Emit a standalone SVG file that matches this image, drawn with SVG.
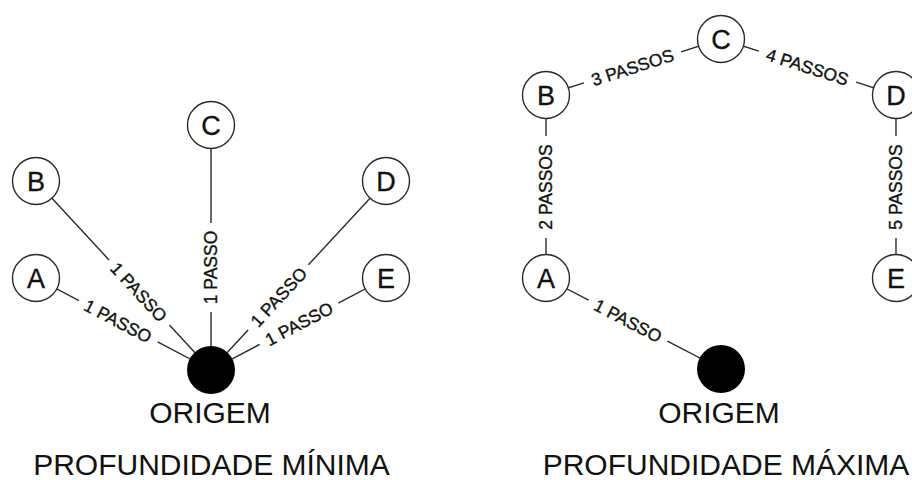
<svg xmlns="http://www.w3.org/2000/svg" width="912" height="480" viewBox="0 0 912 480">
<style>
.bg{fill:#ffffff}
.edge{stroke:#2a2a2a;stroke-width:1.4;fill:none;stroke-linecap:butt}
.node{fill:#ffffff;stroke:#2a2a2a;stroke-width:1.4}
.origin{fill:#000000;stroke:none}
.nlabel{font-family:"Liberation Sans",Arial,Helvetica,sans-serif;font-size:27px;fill:#111111;stroke:#111111;stroke-width:0.3;text-anchor:middle}
.elabel{font-family:"Liberation Sans",Arial,Helvetica,sans-serif;font-size:17.5px;fill:#111111;stroke:#111111;stroke-width:0.35;text-anchor:middle}
.title{font-family:"Liberation Sans",Arial,Helvetica,sans-serif;font-size:30px;fill:#111111;text-anchor:middle}
</style>
<rect class="bg" x="0" y="0" width="912" height="480"/>

<g id="connectors">
  <!-- left panel: minimum depth -->
  <line class="edge" x1="36" y1="278" x2="79.0" y2="300.6"/>
  <line class="edge" x1="157.6" y1="341.9" x2="211" y2="370"/>
  <text class="elabel" transform="translate(118,321) rotate(27.7)" dy="0.36em">1 PASSO</text>

  <line class="edge" x1="36" y1="181" x2="109.0" y2="259.9"/>
  <line class="edge" x1="169.4" y1="325.0" x2="211" y2="370"/>
  <text class="elabel" transform="translate(139,292) rotate(47.2)" dy="0.36em">1 PASSO</text>

  <line class="edge" x1="211" y1="125" x2="211" y2="223.1"/>
  <line class="edge" x1="211" y1="311.9" x2="211" y2="370"/>
  <text class="elabel" transform="translate(211,267.5) rotate(-90)" dy="0.36em">1 PASSO</text>

  <line class="edge" x1="386" y1="181" x2="308.5" y2="264.7"/>
  <line class="edge" x1="248.1" y1="329.9" x2="211" y2="370"/>
  <text class="elabel" transform="translate(278.5,297) rotate(-47.2)" dy="0.36em">1 PASSO</text>

  <line class="edge" x1="386" y1="278" x2="338.3" y2="303.1"/>
  <line class="edge" x1="259.7" y1="344.4" x2="211" y2="370"/>
  <text class="elabel" transform="translate(299,323.7) rotate(-27.7)" dy="0.36em">1 PASSO</text>

  <!-- right panel: maximum depth -->
  <line class="edge" x1="546" y1="278" x2="588.6" y2="300.2"/>
  <line class="edge" x1="667.4" y1="341.1" x2="721" y2="369"/>
  <text class="elabel" transform="translate(628,320.6) rotate(27.5)" dy="0.36em">1 PASSO</text>

  <line class="edge" x1="546" y1="278" x2="546" y2="238"/>
  <line class="edge" x1="546" y1="136" x2="546" y2="95"/>
  <text class="elabel" transform="translate(546,187) rotate(-90)" dy="0.36em">2 PASSOS</text>

  <line class="edge" x1="546" y1="95" x2="583.9" y2="82.9"/>
  <line class="edge" x1="681.1" y1="51.8" x2="721" y2="39"/>
  <text class="elabel" transform="translate(632.5,67.3) rotate(-17.75)" dy="0.36em">3 PASSOS</text>

  <line class="edge" x1="721" y1="39" x2="758.9" y2="51.1"/>
  <line class="edge" x1="856.1" y1="82.2" x2="896" y2="95"/>
  <text class="elabel" transform="translate(807.5,66.7) rotate(17.75)" dy="0.36em">4 PASSOS</text>

  <line class="edge" x1="896" y1="95" x2="896" y2="136"/>
  <line class="edge" x1="896" y1="238" x2="896" y2="278"/>
  <text class="elabel" transform="translate(896,187) rotate(-90)" dy="0.36em">5 PASSOS</text>
</g>

<!-- left panel nodes -->
<g id="min-A"><circle class="node" cx="36" cy="278" r="23.5"/><text class="nlabel" x="36" y="288">A</text></g>
<g id="min-B"><circle class="node" cx="36" cy="181" r="23.5"/><text class="nlabel" x="36" y="191">B</text></g>
<g id="min-C"><circle class="node" cx="211" cy="125" r="23.5"/><text class="nlabel" x="211" y="135">C</text></g>
<g id="min-D"><circle class="node" cx="386" cy="181" r="23.5"/><text class="nlabel" x="386" y="191">D</text></g>
<g id="min-E"><circle class="node" cx="386" cy="278" r="23.5"/><text class="nlabel" x="386" y="288">E</text></g>
<g id="min-origin"><circle class="origin" cx="211" cy="370" r="24"/><text class="title" x="210" y="423">ORIGEM</text></g>
<g id="min-title"><text class="title" x="211.5" y="475">PROFUNDIDADE MÍNIMA</text></g>

<!-- right panel nodes -->
<g id="max-A"><circle class="node" cx="546" cy="278" r="23.5"/><text class="nlabel" x="546" y="288">A</text></g>
<g id="max-B"><circle class="node" cx="546" cy="95" r="23.5"/><text class="nlabel" x="546" y="105">B</text></g>
<g id="max-C"><circle class="node" cx="721" cy="39" r="23.5"/><text class="nlabel" x="721" y="49">C</text></g>
<g id="max-D"><circle class="node" cx="896" cy="95" r="23.5"/><text class="nlabel" x="896" y="105">D</text></g>
<g id="max-E"><circle class="node" cx="896" cy="278" r="23.5"/><text class="nlabel" x="896" y="288">E</text></g>
<g id="max-origin"><circle class="origin" cx="721" cy="369" r="24"/><text class="title" x="719" y="423">ORIGEM</text></g>
<g id="max-title"><text class="title" x="726" y="475">PROFUNDIDADE MÁXIMA</text></g>
</svg>
